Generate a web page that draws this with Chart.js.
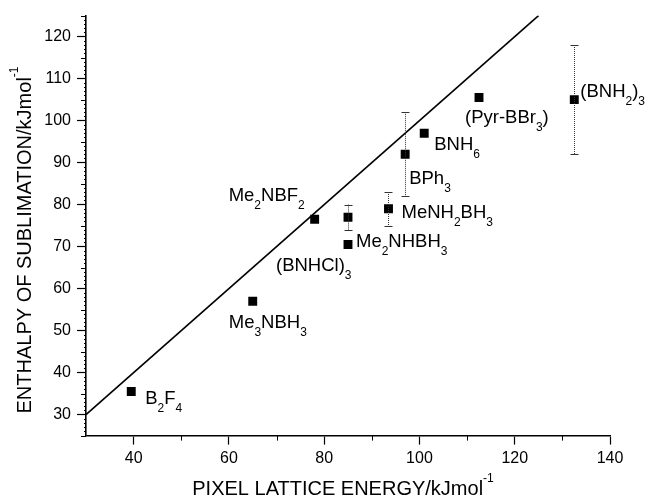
<!DOCTYPE html>
<html lang="en">
<head>
    <meta charset="UTF-8">
    <title>Enthalpy of sublimation vs PIXEL lattice energy</title>
    <script src="https://cdn.jsdelivr.net/npm/chart.js"></script>
    <style>
        body { margin: 0; background: #fff; }
        #wrap { width: 650px; height: 500px; }
    </style>
</head>
<body>
    <div id="wrap"><canvas id="sublimationChart" width="650" height="500"></canvas></div>

    <script>
        // data (kJ/mol)
        const compounds = ["B_{2}F_{4}", "Me_{3}NBH_{3}", "Me_{2}NBF_{2}", "Me_{2}NHBH_{3}", "(BNHCl)_{3}",
                           "MeNH_{2}BH_{3}", "BPh_{3}", "BNH_{6}", "(Pyr-BBr_{3})", "(BNH_{2})_{3}"];
        const latticeEnergy = [39.5, 65, 78, 85, 85, 93.5, 97, 101, 112.5, 132.5];
        const sublimation   = [35.5, 57, 76.5, 77, 70.5, 79, 92, 97, 105.5, 105];
        const errorBars     = [0, 0, 0, 3, 0, 4, 10, 0, 0, 13];
        const xTicks = [40, 60, 80, 100, 120, 140];
        const yTicks = [30, 40, 50, 60, 70, 80, 90, 100, 110, 120];
        const parityLine = [30, 125];   // y = x

        // where each label sits relative to its point (px)
        const labelOffsets = [[14, 12], [-24, 27], [-86, -18], [8, 30], [-72, 26],
                              [13, 9], [4, 30], [10, 17], [-14, 25], [6, -3]];

        const FONT = '"Liberation Sans", Arial, sans-serif';
        Chart.defaults.font.family = FONT;
        Chart.defaults.color = "#000";

        // text with _{sub} and ^{sup} parts
        function richParts(text) {
            const parts = [];
            const re = /([_^])\{([^}]*)\}|([^_^]+)/g;
            let m;
            while ((m = re.exec(text)) !== null) {
                if (m[3]) parts.push({ t: m[3], k: "n" });
                else parts.push({ t: m[2], k: m[1] === "_" ? "sub" : "sup" });
            }
            return parts;
        }

        function richWidth(ctx, text, size, small) {
            let w = 0;
            richParts(text).forEach(p => {
                ctx.font = (p.k === "n" ? size : small) + "px " + FONT;
                w += ctx.measureText(p.t).width;
            });
            return w;
        }

        function drawRich(ctx, text, x, y, size, small, subDy, supDy) {
            ctx.textBaseline = "alphabetic";
            ctx.textAlign = "left";
            richParts(text).forEach(p => {
                let dy = 0;
                if (p.k === "sub") dy = subDy;
                if (p.k === "sup") dy = supDy;
                ctx.font = (p.k === "n" ? size : small) + "px " + FONT;
                ctx.fillText(p.t, x, y + dy);
                x += ctx.measureText(p.t).width;
            });
        }

        const extrasPlugin = {
            id: "extras",
            afterDatasetsDraw(chart) {
                const ctx = chart.ctx;
                const xs = chart.scales.x, ys = chart.scales.y;
                const area = chart.chartArea;
                ctx.save();
                ctx.fillStyle = "#000";
                ctx.strokeStyle = "#000";

                // minor ticks
                ctx.lineWidth = 1;
                ctx.beginPath();
                for (let v = 25; v <= 125; v++) {
                    const py = Math.round(ys.getPixelForValue(v)) + 0.5;
                    const len = v % 10 === 0 ? 0 : (v % 5 === 0 ? 5 : 2);
                    if (len) {
                        ctx.moveTo(area.left - len, py);
                        ctx.lineTo(area.left, py);
                    }
                }
                for (let v = 50; v < 140; v += 20) {
                    const px = Math.round(xs.getPixelForValue(v)) + 0.5;
                    ctx.moveTo(px, area.bottom);
                    ctx.lineTo(px, area.bottom + 5);
                }
                ctx.stroke();

                // error bars
                latticeEnergy.forEach((xv, i) => {
                    const e = errorBars[i];
                    if (!e) return;
                    const px = Math.round(xs.getPixelForValue(xv)) + 0.5;
                    const top = ys.getPixelForValue(sublimation[i] + e);
                    const bot = ys.getPixelForValue(sublimation[i] - e);
                    ctx.strokeStyle = "#333";
                    ctx.lineWidth = 1;
                    ctx.setLineDash([1, 1]);
                    ctx.beginPath();
                    ctx.moveTo(px, top);
                    ctx.lineTo(px, bot);
                    ctx.stroke();
                    ctx.setLineDash([]);
                    ctx.beginPath();
                    ctx.moveTo(px - 4, Math.round(top) + 0.5);
                    ctx.lineTo(px + 4, Math.round(top) + 0.5);
                    ctx.moveTo(px - 4, Math.round(bot) + 0.5);
                    ctx.lineTo(px + 4, Math.round(bot) + 0.5);
                    ctx.stroke();
                });

                // compound labels
                ctx.fillStyle = "#000";
                compounds.forEach((name, i) => {
                    const px = xs.getPixelForValue(latticeEnergy[i]);
                    const py = ys.getPixelForValue(sublimation[i]);
                    drawRich(ctx, name, px + labelOffsets[i][0], py + labelOffsets[i][1], 18.5, 12, 8, -9);
                });

                // axis titles
                const xTitle = "PIXEL LATTICE ENERGY/kJmol^{-1}";
                const yTitle = "ENTHALPY OF SUBLIMATION/kJmol^{-1}";
                const xw = richWidth(ctx, xTitle, 20, 12);
                drawRich(ctx, xTitle, 343 - xw / 2, 495, 20, 12, 0, -13);

                ctx.translate(31, 240);
                ctx.rotate(-Math.PI / 2);
                const yw = richWidth(ctx, yTitle, 20, 12);
                drawRich(ctx, yTitle, -yw / 2, 0, 20, 12, 0, -13);
                ctx.restore();
            }
        };

        const axisStyle = {
            grid: { drawOnChartArea: false, tickLength: 9, tickColor: "#000", tickWidth: 1.2 },
            border: { color: "#000", width: 1.6 },
        };

        const ctx = document.getElementById("sublimationChart").getContext("2d");
        new Chart(ctx, {
            type: "scatter",
            data: {
                datasets: [
                    {
                        label: "compounds",
                        data: latticeEnergy.map((x, i) => ({ x: x, y: sublimation[i] })),
                        pointStyle: "rect",
                        pointRadius: 6.3,
                        backgroundColor: "#000",
                        borderWidth: 0,
                        order: 0
                    },
                    {
                        type: "line",
                        label: "y = x",
                        data: parityLine.map(v => ({ x: v, y: v })),
                        borderColor: "#000",
                        borderWidth: 1.6,
                        pointRadius: 0,
                        fill: false,
                        order: 1
                    }
                ]
            },
            options: {
                responsive: false,
                animation: false,
                layout: { padding: { top: 13, right: 40, left: 0, bottom: 0 } },
                plugins: {
                    legend: { display: false },
                    tooltip: { enabled: false }
                },
                scales: {
                    x: {
                        type: "linear",
                        min: 30,
                        max: 140,
                        afterBuildTicks: s => { s.ticks = xTicks.map(v => ({ value: v })); },
                        afterFit: s => { s.height = 64.4; },
                        ticks: { font: { size: 16 }, padding: 4, maxRotation: 0, color: "#000" },
                        ...axisStyle
                    },
                    y: {
                        type: "linear",
                        min: 25,
                        max: 125,
                        afterBuildTicks: s => { s.ticks = yTicks.map(v => ({ value: v })); },
                        afterFit: s => { s.width = 86; },
                        ticks: { font: { size: 16 }, padding: 6, color: "#000" },
                        ...axisStyle
                    }
                }
            },
            plugins: [extrasPlugin]
        });
    </script>
</body>
</html>
